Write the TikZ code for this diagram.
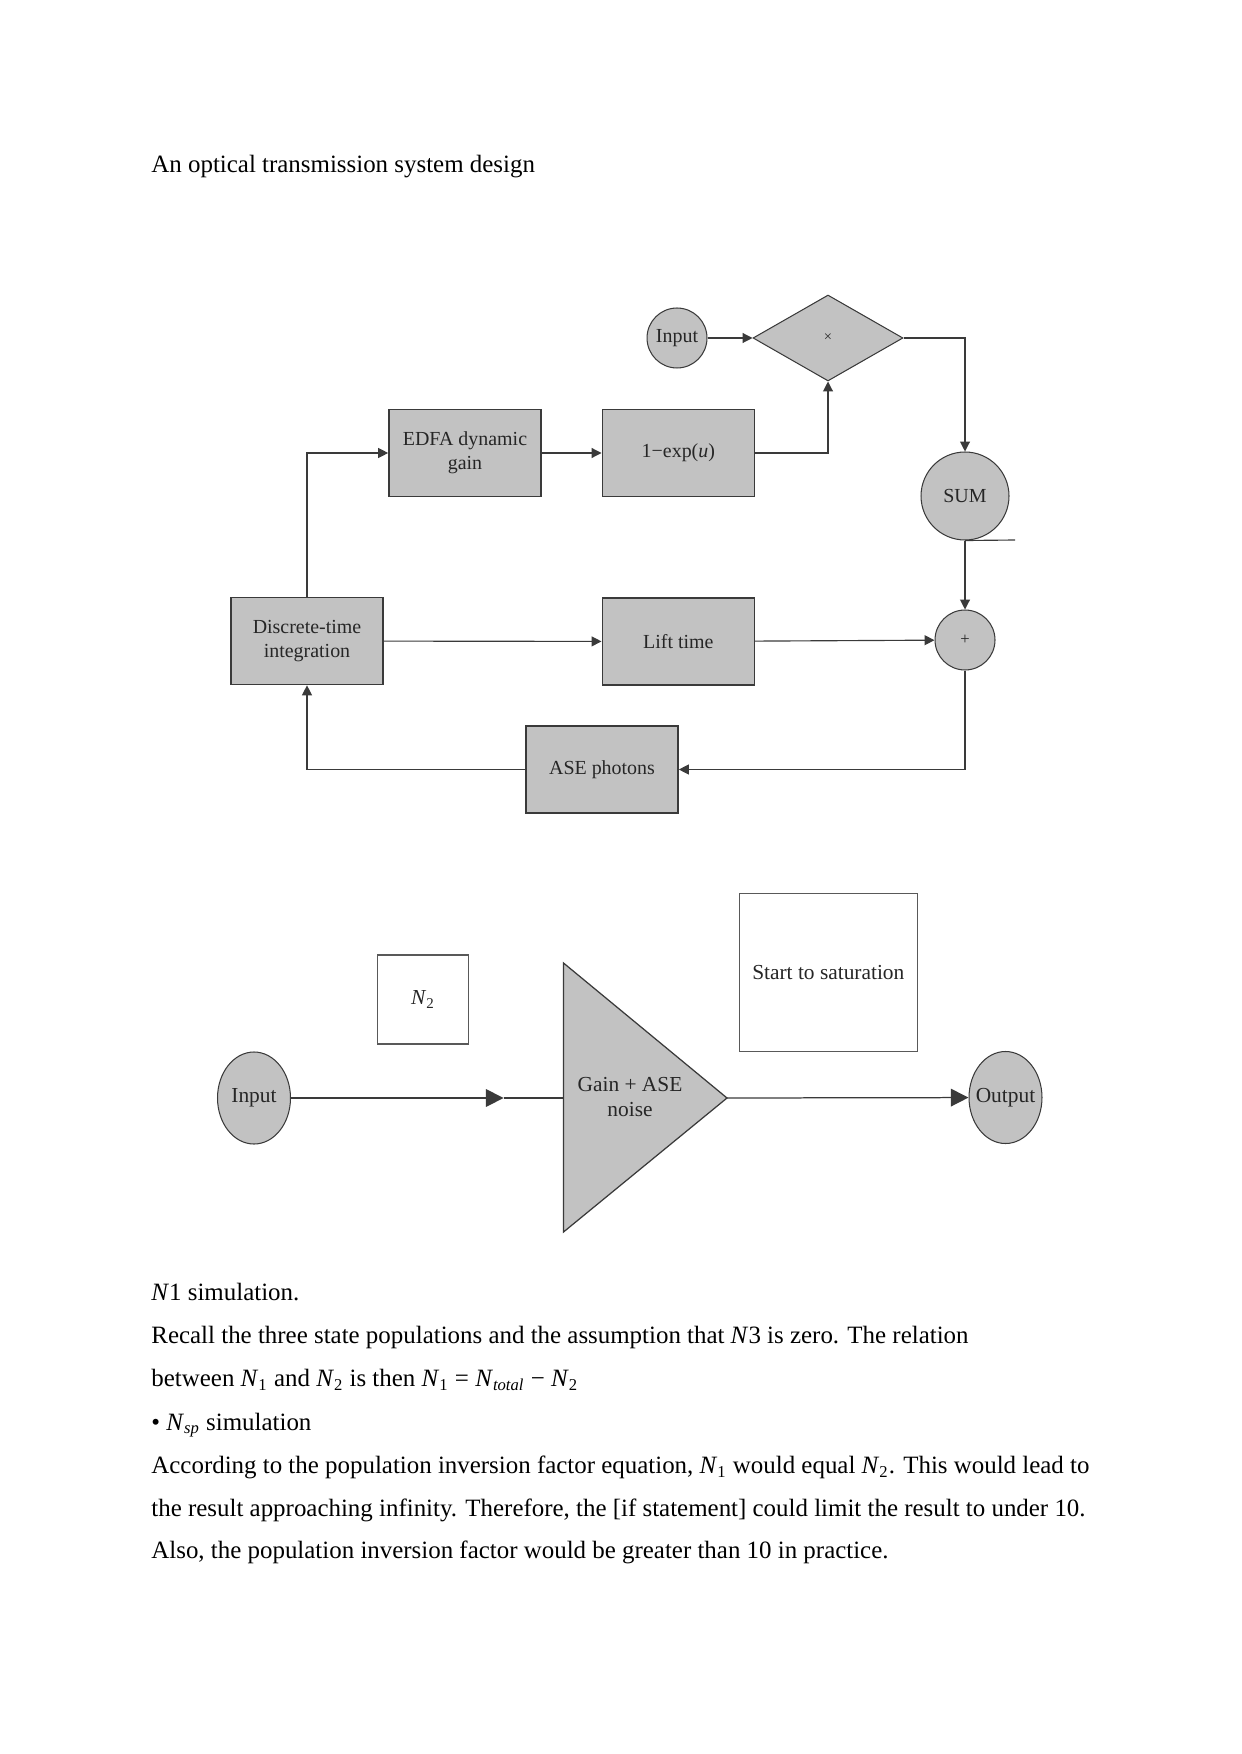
\documentclass[tikz,border=0pt]{standalone}
\usepackage{fontspec}
\setmainfont{Liberation Serif}
\usepackage{xcolor}
\definecolor{blockgray}{HTML}{C2C2C2}
\definecolor{wiregray}{HTML}{3A3A3A}
\usetikzlibrary{arrows.meta,positioning,shapes.geometric}
\tikzset{
  blockbox/.style={draw=wiregray,line width=0.8pt,fill=blockgray,align=center,minimum width=2.572cm,minimum height=1.472cm,inner sep=1pt,text=black!85,font=\fontsize{9.6}{11.6}\selectfont},
  roundnode/.style={draw=wiregray,line width=0.5pt,circle,fill=blockgray,inner sep=0pt,text=black!85,font=\fontsize{9.6}{11.6}\selectfont},
  ampnode/.style={draw=wiregray,line width=0.5pt,ellipse,fill=blockgray,minimum width=1.235cm,minimum height=1.557cm,inner xsep=-4pt,inner ysep=0pt,text=black!85,font=\fontsize{10.3}{12.4}\selectfont},
  notebox/.style={draw=black!65,line width=0.6pt,fill=white,align=center,inner sep=1pt,text=black!85,font=\fontsize{10.3}{12.4}\selectfont},
  flowarrow/.style={-{Triangle[length=4.8pt,width=4.8pt]},line width=0.55pt,wiregray},
  flowline/.style={line width=0.55pt,wiregray},
  bigarrow/.style={-{Triangle[length=8.5pt,width=8.5pt]},line width=0.6pt,wiregray},
  bodytext/.style={anchor=base west,inner sep=0pt,font=\fontsize{12}{14}\selectfont}
}
\begin{document}
\begin{tikzpicture}[x=0.0169219cm,y=-0.0169219cm]
\useasboundingbox (0,0) rectangle (1241,1754);
\node[bodytext] (title) at (151,173) {An optical transmission system design};
% EDFA loop
\node[roundnode,minimum size=1.015cm] (in1) at (677,338) {Input};
\node[diamond,draw=wiregray,line width=0.5pt,fill=blockgray,minimum width=2.538cm,minimum height=1.455cm,inner sep=0pt,text=black!85,font=\fontsize{7}{8}\selectfont] (mult) at (828,338) {×};
\node[blockbox] (edfa) at (465,453) {EDFA dynamic\\gain};
\node[blockbox,right=1.01cm of edfa] (oneexp) {1−exp(\textit{u})};
\node[roundnode,minimum size=1.489cm] (sum) at (965,496) {SUM};
\node[blockbox,below=1.69cm of oneexp] (lift) {Lift time};
\node[blockbox] (dti) at (307,641) {Discrete-time\\integration};
\node[roundnode,minimum size=1.015cm,font=\fontsize{8}{9}\selectfont] (plus) at (965,640) {+};
\node[blockbox] (ase) at (602,769.5) {ASE photons};
\coordinate (sumtail) at (1015,540);
\draw[flowarrow] (in1)--(mult);\draw[flowarrow] (mult.east)-|(sum.north);
\draw[flowarrow] (edfa)--(oneexp);\draw[flowarrow] (oneexp.east)-|(mult.south);
\draw[flowarrow] (dti.north)|-(edfa.west);
\draw[flowarrow] (dti)--(lift);\draw[flowarrow] (lift)--(plus);
\draw[flowarrow] (sum)--(plus);\draw[flowline] (sum.south)--(sumtail);
\draw[flowarrow] (plus.south)|-(ase.east);\draw[flowarrow] (ase.west)-|(dti.south);
% amplifier
\node[ampnode] (in2) at (254,1098) {Input};
\node[notebox,minimum width=1.531cm,minimum height=1.506cm] (ntwo) at (423,999.5) {\textit{N}\textsubscript{2}};
\coordinate (amptop) at (563.5,963);
\coordinate (ampbot) at (563.5,1232);
\coordinate (ampin) at (563.5,1098);
\coordinate (ampout) at (727,1098);
\draw[wiregray,line width=0.6pt,fill=blockgray] (amptop)--(ampout)--(ampbot)--cycle;
\node[align=center,text=black!85,font=\fontsize{10.3}{11.7}\selectfont] (amp) at (630,1097) {Gain + ASE\\noise};
\node[notebox,minimum width=3.012cm,minimum height=2.68cm] (sat) at (828.3,972.5) {Start to saturation};
\node[ampnode] (out) at (1005.5,1097.5) {Output};
\coordinate (midtip) at (503.6,1098);
\draw[bigarrow] (in2)--(midtip);\draw[flowline] (midtip)--(ampin);
\draw[bigarrow] (ampout)--(out);
% text below
\node[bodytext] (l1) at (151,1300) {\textit{N}1 simulation.};
\node[bodytext] (l2) at (151,1343.3) {Recall the three state populations and the assumption that \textit{N}3 is zero. The relation};
\node[bodytext] (l3) at (151,1386.7) {between \textit{N}\textsubscript{1} and \textit{N}\textsubscript{2} is then \textit{N}\textsubscript{1} = \textit{N}\textsubscript{\textit{total}} − \textit{N}\textsubscript{2}};
\node[bodytext] (l4) at (151,1430) {• \textit{N}\textsubscript{\textit{sp}} simulation};
\node[bodytext] (l5) at (151,1473.3) {According to the population inversion factor equation, \textit{N}\textsubscript{1} would equal \textit{N}\textsubscript{2}. This would lead to};
\node[bodytext] (l6) at (151,1516.7) {the result approaching infinity. Therefore, the [if statement] could limit the result to under 10.};
\node[bodytext] (l7) at (151,1558.3) {Also, the population inversion factor would be greater than 10 in practice.};
\end{tikzpicture}
\end{document}
